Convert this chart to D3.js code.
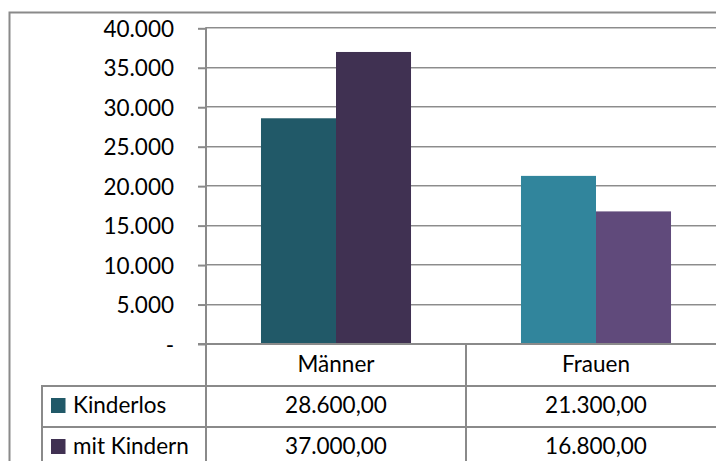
<!DOCTYPE html>
<html>
<head>
<meta charset="utf-8">
<script src="https://cdn.jsdelivr.net/npm/d3@7"></script>
<style>
  html, body { margin: 0; padding: 0; background: #fff; }
  svg { display: block; font-family: Lato, "Open Sans", sans-serif; }
</style>
</head>
<body>
<svg id="chart" width="716" height="461"></svg>
<script>
// ---- data ----
const categories = ["Männer", "Frauen"];
const seriesNames = ["Kinderlos", "mit Kindern"];
const kinderlos = [28600, 21300];
const mitKindern = [37000, 16800];
const yTicks = [0, 5000, 10000, 15000, 20000, 25000, 30000, 35000, 40000];
// colours per category (Männer darker, Frauen lighter), per series
const colorsMaenner = ["#215968", "#403152"];
const colorsFrauen = ["#31859C", "#604A7B"];

const seriesValues = [kinderlos, mitKindern];
const categoryColors = [colorsMaenner, colorsFrauen];

const locale = d3.formatLocale({ decimal: ",", thousands: ".", grouping: [3], currency: ["", "€"] });
const fmtAxis = locale.format(",.0f");
const fmtTable = locale.format(",.2f");

const svg = d3.select("#chart");
const FONT = 22.5;
const lineColor = "#8a8a8a";

// layout
const plotLeft = 206, plotRight = 726, plotTop = 28.3, plotBottom = 344;
const tableRows = [386, 427, 468];
const legendLeft = 42;

const x0 = d3.scaleBand().domain(categories).range([plotLeft, plotRight]).paddingInner(0).paddingOuter(0);
const x1 = d3.scaleBand().domain(seriesNames).range([0, x0.bandwidth()]).paddingInner(0).paddingOuter(0.733);
const y = d3.scaleLinear().domain([0, 40000]).range([plotBottom, plotTop]);

// outer chart border
svg.append("path")
  .attr("d", `M9.5,461 V12.5 H716`)
  .attr("fill", "none").attr("stroke", lineColor).attr("stroke-width", 2);

// gridlines (double line: dark + light shadow)
const grid = svg.append("g");
yTicks.filter(d => d !== 0).forEach(t => {
  const yy = Math.round(y(t));
  grid.append("line").attr("x1", plotLeft).attr("x2", 716)
    .attr("y1", yy - 0.5).attr("y2", yy - 0.5).attr("stroke", "#8c8c8c").attr("stroke-width", 1);
  grid.append("line").attr("x1", plotLeft).attr("x2", 716)
    .attr("y1", yy + 0.5).attr("y2", yy + 0.5).attr("stroke", "#c8c8c8").attr("stroke-width", 1);
});

// bars
const barData = [];
categories.forEach((c, ci) => {
  seriesNames.forEach((s, si) => {
    barData.push({ cat: c, series: s, value: seriesValues[si][ci], color: categoryColors[ci][si] });
  });
});
svg.append("g").selectAll("rect").data(barData).enter().append("rect")
  .attr("x", d => x0(d.cat) + x1(d.series))
  .attr("width", x1.bandwidth())
  .attr("y", d => y(d.value))
  .attr("height", d => y(0) - y(d.value))
  .attr("fill", d => d.color);

// y axis
const yAxis = d3.axisLeft(y).tickValues(yTicks).tickSizeInner(8).tickSizeOuter(0).tickPadding(24)
  .tickFormat(d => d === 0 ? "-" : fmtAxis(d));
const gy = svg.append("g").attr("transform", `translate(${plotLeft},0)`).call(yAxis);
gy.select(".domain").remove();
gy.selectAll(".tick line").attr("stroke", lineColor).attr("stroke-width", 2);
gy.selectAll(".tick text").attr("font-size", FONT).attr("font-family", "Lato, sans-serif").attr("fill", "#000")
  .attr("dy", "0.36em");

// vertical axis line (continues down through table)
svg.append("line").attr("x1", plotLeft).attr("x2", plotLeft).attr("y1", plotTop - 1).attr("y2", 461)
  .attr("stroke", lineColor).attr("stroke-width", 2);
// horizontal axis line
svg.append("line").attr("x1", plotLeft - 8).attr("x2", 716).attr("y1", plotBottom).attr("y2", plotBottom)
  .attr("stroke", lineColor).attr("stroke-width", 2);

// table lines
const tbl = svg.append("g").attr("stroke", lineColor).attr("stroke-width", 2);
tableRows.slice(0, 2).forEach(r => {
  tbl.append("line").attr("x1", legendLeft).attr("x2", 716).attr("y1", r).attr("y2", r);
});
tbl.append("line").attr("x1", legendLeft).attr("x2", legendLeft).attr("y1", tableRows[0] - 1).attr("y2", 461);
categories.forEach((c, i) => {
  if (i > 0) tbl.append("line").attr("x1", x0(c)).attr("x2", x0(c)).attr("y1", plotBottom).attr("y2", 461);
});

// category header
svg.append("g").selectAll("text").data(categories).enter().append("text")
  .attr("x", d => x0(d) + x0.bandwidth() / 2).attr("y", 372)
  .attr("text-anchor", "middle").attr("font-size", FONT).attr("fill", "#000")
  .text(d => d);

// table rows
const baselines = [413, 454];
seriesNames.forEach((s, si) => {
  const g = svg.append("g");
  g.append("rect").attr("x", 51).attr("y", baselines[si] - 15).attr("width", 14.5).attr("height", 15)
    .attr("fill", colorsMaenner[si]);
  g.append("text").attr("x", 73).attr("y", baselines[si]).attr("font-size", FONT).attr("fill", "#000").text(s);
  categories.forEach((c, ci) => {
    g.append("text").attr("x", x0(c) + x0.bandwidth() / 2).attr("y", baselines[si])
      .attr("text-anchor", "middle").attr("font-size", FONT).attr("fill", "#000")
      .text(fmtTable(seriesValues[si][ci]));
  });
});
</script>
</body>
</html>
